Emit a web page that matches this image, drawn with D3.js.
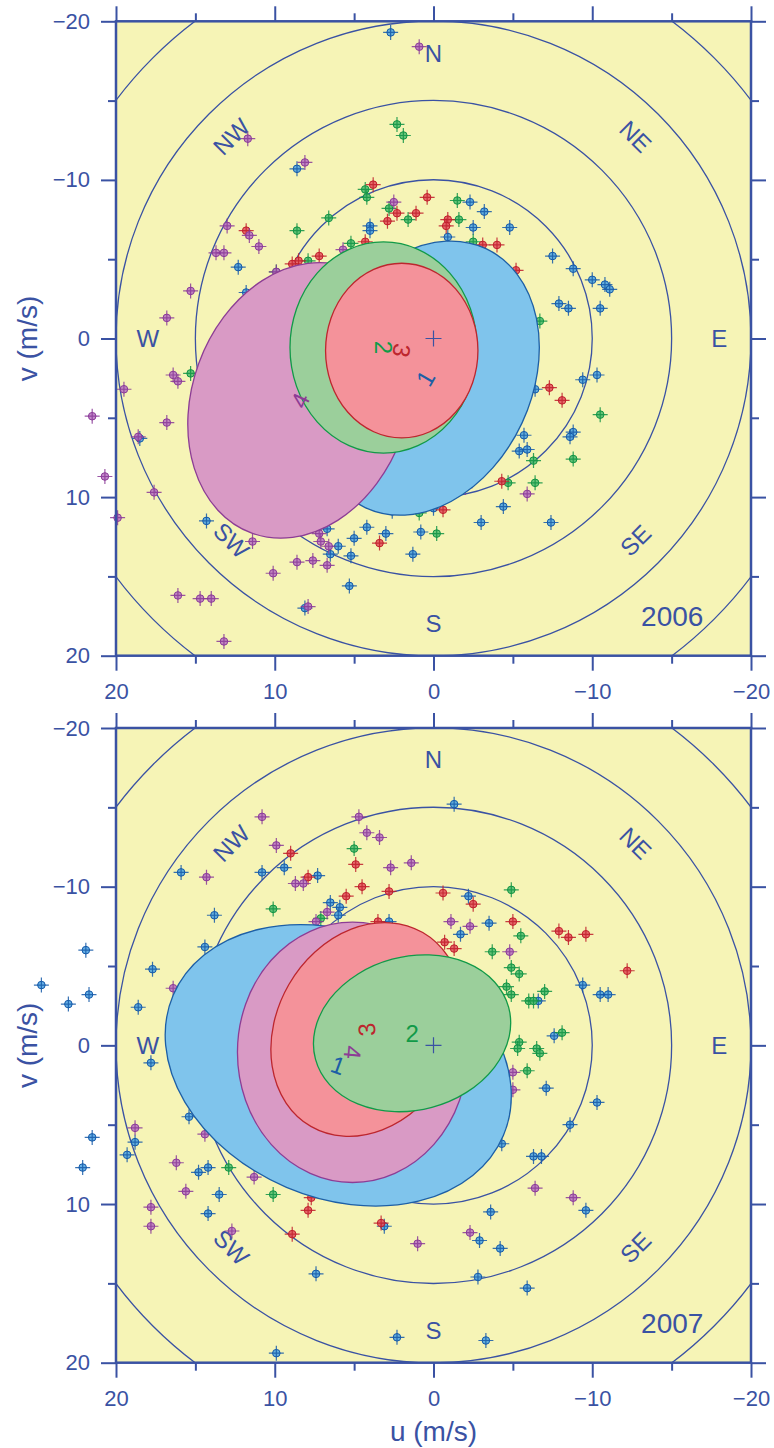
<!DOCTYPE html>
<html><head><meta charset="utf-8">
<script src="https://cdnjs.cloudflare.com/ajax/libs/d3/7.8.5/d3.min.js"></script>
<style>
body{margin:0;background:#fff}
svg{display:block}
text{font-family:"Liberation Sans",Arial,Helvetica,sans-serif}
</style>
</head><body>
<svg id="chart" width="774" height="1448"></svg>
<script>
// ---------- data ----------
const uDomain = [20, -20];
const vDomain = [-20, 20];
const majorTicks = [-20, -10, 0, 10, 20];
const minorTicks = [-15, -5, 5, 15];
const ringRadii = [10, 15, 20, 25];
const compassLabels = ["N", "NE", "E", "SE", "S", "SW", "W", "NW"];
const compassBearings = [0, 45, 90, 135, 180, 225, 270, 315];
const compassRadius = 18;
const years = ["2006", "2007"];
const yearLabelPos = [-17, 18.15];

// wind vectors (u, v) in m/s, series 1-4
const s1_2006 = [[2.7,-19.3],[8.6,-10.7],[4.0,-7.1],[4.0,-6.8],[12.3,-4.5],[11.8,-2.9],[-2.3,-8.6],[-3.2,-8.0],[-2.5,-7.0],[-4.8,-7.0],[-0.9,-6.4],[-7.5,-5.2],[-8.8,-4.4],[-10.0,-3.7],[-10.8,-3.4],[-11.1,-3.1],[-7.9,-2.2],[-8.5,-1.9],[-10.5,-1.9],[-6.4,3.2],[-9.4,2.6],[-10.3,2.3],[-5.7,6.1],[-5.4,7.1],[-5.9,7.0],[-8.8,5.9],[-8.6,6.2],[-4.4,10.6],[-3.0,11.6],[-7.4,11.6],[0.0,10.7],[0.8,12.2],[2.6,10.9],[3.0,12.3],[1.3,13.6],[18.5,6.3],[14.3,11.5],[6.7,12.0],[6.0,13.1],[6.5,13.6],[5.0,12.6],[4.2,11.9],[5.2,13.7],[5.3,15.6],[8.1,17.0]];
const s2_2006 = [[2.3,-13.5],[1.9,-12.8],[4.3,-9.4],[4.2,-8.9],[6.6,-7.6],[8.6,-6.8],[2.8,-8.2],[5.2,-6.0],[7.9,-4.9],[1.6,-7.5],[-1.5,-8.7],[-1.6,-7.5],[-2.5,-6.1],[-6.7,-1.1],[-10.5,4.8],[-6.3,7.7],[-8.8,7.6],[-6.4,9.1],[-4.7,9.1],[0.9,11.0],[-0.2,12.3],[15.3,2.2],[9.9,-4.2]];
const s3_2006 = [[3.8,-9.7],[11.8,-6.8],[2.9,-7.4],[2.3,-7.9],[4.3,-6.1],[7.2,-5.2],[8.5,-4.9],[8.9,-4.7],[0.4,-8.9],[1.1,-7.9],[-0.9,-7.5],[-0.8,-7.1],[-3.1,-5.9],[-4.0,-5.9],[-5.2,-4.3],[-7.3,3.1],[-8.1,3.9],[-4.3,9.0],[-0.6,10.8],[3.4,12.9]];
const s4_2006 = [[11.7,-12.6],[8.1,-11.1],[13.0,-7.1],[11.6,-6.5],[11.0,-5.8],[13.7,-5.4],[13.2,-5.4],[15.3,-3.0],[16.8,-1.3],[2.5,-8.6],[5.7,-5.6],[9.9,-4.2],[0.9,-18.4],[16.4,2.3],[16.1,2.7],[19.5,3.2],[21.5,4.9],[16.8,5.3],[18.6,6.2],[20.7,8.7],[17.6,9.7],[19.9,11.3],[11.4,12.8],[10.1,14.8],[8.6,14.1],[7.6,14.0],[6.7,14.3],[7.2,12.3],[7.1,12.8],[6.6,13.1],[16.1,16.2],[14.7,16.4],[14.0,16.4],[13.2,19.1],[7.9,16.9],[-5.9,9.8],[-2.0,9.4]];

const s1_2007 = [[24.7,-3.8],[23.0,-2.6],[21.7,-3.2],[21.9,-6.0],[18.6,-2.4],[17.7,-4.8],[15.9,-10.9],[14.4,-6.2],[13.8,-8.2],[10.8,-10.9],[9.4,-11.2],[7.3,-10.7],[6.5,-9.0],[5.9,-8.7],[6.0,-8.2],[2.8,-7.8],[17.8,1.1],[-1.3,-15.2],[-2.2,-9.4],[-3.5,-7.7],[-1.7,-7.0],[-9.4,-3.8],[-10.5,-3.2],[-11.0,-3.2],[-6.6,-2.8],[-7.6,-0.6],[15.4,4.5],[21.5,5.8],[18.8,6.1],[19.3,6.9],[22.1,7.7],[14.8,8.0],[14.2,7.7],[13.5,9.4],[14.2,10.6],[7.4,14.4],[9.9,19.4],[3.1,11.4],[2.3,18.4],[-7.1,2.7],[-10.3,3.6],[-8.6,5.0],[-4.3,6.2],[-6.3,7.0],[-6.8,7.0],[-9.6,10.4],[-3.6,10.5],[-2.9,12.3],[-4.2,12.8],[-2.8,14.6],[-5.9,15.3],[-3.3,18.6]];
const s2_2007 = [[5.0,-12.4],[10.1,-8.6],[7.1,-8.0],[-4.9,-9.8],[-5.5,-6.9],[-3.7,-5.9],[-4.9,-4.9],[-5.4,-4.5],[-4.6,-3.7],[-4.9,-3.2],[-7.0,-3.4],[-6.0,-2.8],[-6.3,-2.8],[-8.1,-0.8],[-5.4,-0.2],[-5.3,0.2],[-6.5,0.2],[-6.7,0.5],[-5.9,1.6],[12.9,7.7],[10.1,9.4]];
const s3_2007 = [[9.0,-12.1],[7.9,-10.6],[4.9,-11.4],[4.5,-10.0],[5.5,-9.4],[2.8,-9.7],[3.5,-7.8],[-0.6,-9.6],[-2.5,-8.9],[-5.0,-7.8],[-0.7,-6.5],[-1.3,-6.1],[-7.9,-7.2],[-8.5,-6.8],[-9.6,-7.0],[-12.2,-4.7],[7.9,10.4],[8.9,11.9],[3.3,11.2],[7.7,9.6]];
const s4_2007 = [[10.8,-14.4],[9.9,-12.6],[14.3,-10.6],[8.7,-10.2],[8.2,-10.2],[6.7,-8.4],[7.4,-7.8],[4.7,-14.4],[4.2,-13.4],[3.4,-13.1],[2.7,-11.2],[16.4,-3.6],[1.4,-11.5],[-1.1,-7.8],[-2.3,-7.5],[-4.8,-5.9],[18.8,5.2],[16.2,7.4],[15.6,9.2],[17.8,10.2],[17.8,11.4],[12.7,11.7],[11.3,8.3],[14.4,5.6],[-5.0,1.7],[-5.0,2.8],[-6.4,9.0],[-8.8,9.6],[-2.3,11.8],[1.0,12.5]];

// variability ellipses: centre (u,v), semi-axes a,b (m/s), orientation (deg)
const ell_2006 = [
  {id:"1", u:0.5,  v:2.5,  a:9.0,  b:6.7,  angle:-65, labelAngle:-60},
  {id:"4", u:8.4,  v:3.9,  a:8.9,  b:6.8,  angle:-70, labelAngle:-65},
  {id:"2", u:3.15, v:0.57, a:6.65, b:5.89, angle:90,  labelAngle:90},
  {id:"3", u:2.0,  v:0.76, a:5.5,  b:4.8,  angle:90,  labelAngle:100}
];
const ell_2007 = [
  {id:"1", u:6.0,  v:1.26, a:11.3, b:8.35, angle:23,  labelAngle:20},
  {id:"4", u:5.1,  v:0.44, a:8.2,  b:7.25, angle:90,  labelAngle:95},
  {id:"3", u:4.2,  v:-1.0, a:7.05, b:5.67, angle:-60, labelAngle:-95},
  {id:"2", u:1.35, v:-0.76,a:6.3,  b:4.83, angle:-15, labelAngle:0}
];

// ---------- styles ----------
const ink = "#3a52a3";
const bg = "#f6f4b6";
const colors = {
  "1": {ellFill:"#7fc4ec", ellStroke:"#1d5fa6", ptFill:"#4aa2e3", ptStroke:"#1559a8"},
  "2": {ellFill:"#9bcf9b", ellStroke:"#119a48", ptFill:"#4dbb6d", ptStroke:"#119344"},
  "3": {ellFill:"#f4929a", ellStroke:"#bd262e", ptFill:"#e3505c", ptStroke:"#c01f2b"},
  "4": {ellFill:"#d99ac5", ellStroke:"#8c3d95", ptFill:"#b873c2", ptStroke:"#8a3a98"}
};

const panels = [
  {year:years[0], top:21.3, bottom:655.7, series:{"1":s1_2006,"2":s2_2006,"3":s3_2006,"4":s4_2006}, ell:ell_2006},
  {year:years[1], top:728,  bottom:1362.7, series:{"1":s1_2007,"2":s2_2007,"3":s3_2007,"4":s4_2007}, ell:ell_2007}
];
const left = 116, right = 751;

const svg = d3.select("#chart");
const fmt = d3.format("");

panels.forEach((p, pi) => {
  const x = d3.scaleLinear().domain(uDomain).range([left, right]);
  const y = d3.scaleLinear().domain(vDomain).range([p.top, p.bottom]);
  const k = Math.abs(x(1) - x(0));
  const g = svg.append("g");

  const clipId = "clip" + pi;
  g.append("clipPath").attr("id", clipId).append("rect")
    .attr("x", left).attr("y", p.top).attr("width", right - left).attr("height", p.bottom - p.top);

  g.append("rect").attr("x", left).attr("y", p.top).attr("width", right - left)
    .attr("height", p.bottom - p.top).attr("fill", bg);

  // rings
  g.append("g").attr("clip-path", `url(#${clipId})`).selectAll("circle").data(ringRadii).join("circle")
    .attr("cx", x(0)).attr("cy", y(0)).attr("r", d => d * k)
    .attr("fill", "none").attr("stroke", ink).attr("stroke-width", 1.3);

  // compass labels
  g.append("g").selectAll("text").data(compassLabels).join("text")
    .attr("transform", (d, i) => {
      const b = compassBearings[i] * Math.PI / 180;
      const uu = -Math.sin(b) * compassRadius, vv = -Math.cos(b) * compassRadius;
      let rot = 0;
      if (compassBearings[i] % 90 !== 0) {
        rot = compassBearings[i] % 180 === 45 ? 45 : -45;
      }
      return `translate(${x(uu)},${y(vv)}) rotate(${rot})`;
    })
    .attr("text-anchor", "middle").attr("dominant-baseline", "central")
    .attr("font-size", 24).attr("fill", ink).text(d => d);

  // points
  ["1", "2", "3", "4"].forEach(s => {
    const c = colors[s];
    const pg = g.append("g").selectAll("g").data(p.series[s]).join("g")
      .attr("transform", d => `translate(${x(d[0])},${y(d[1])})`);
    pg.append("circle").attr("r", 3.8).attr("fill", c.ptFill).attr("fill-opacity", 0.85)
      .attr("stroke", c.ptStroke).attr("stroke-width", 1);
    pg.append("path").attr("d", "M-7.5,0H7.5M0,-7.5V7.5")
      .attr("stroke", c.ptStroke).attr("stroke-width", 1.2).attr("stroke-opacity", 0.85);
  });

  // ellipses
  g.append("g").selectAll("ellipse").data(p.ell).join("ellipse")
    .attr("transform", d => `translate(${x(d.u)},${y(d.v)}) rotate(${d.angle})`)
    .attr("rx", d => d.a * k).attr("ry", d => d.b * k)
    .attr("fill", d => colors[d.id].ellFill).attr("stroke", d => colors[d.id].ellStroke)
    .attr("stroke-width", 1.3);

  g.append("g").selectAll("text").data(p.ell).join("text")
    .attr("transform", d => `translate(${x(d.u)},${y(d.v)}) rotate(${d.labelAngle})`)
    .attr("text-anchor", "middle").attr("dominant-baseline", "central")
    .attr("font-size", 24).attr("fill", d => colors[d.id].ellStroke).text(d => d.id);

  // centre cross
  g.append("path").attr("d", `M${x(0)-8},${y(0)}H${x(0)+8}M${x(0)},${y(0)-8}V${y(0)+8}`)
    .attr("stroke", ink).attr("stroke-width", 1.2);

  // year
  g.append("text").attr("x", x(yearLabelPos[0])).attr("y", y(yearLabelPos[1]))
    .attr("text-anchor", "end").attr("font-size", 28).attr("fill", ink).text(p.year);

  // axes
  const styleAxis = (sel) => {
    sel.select(".domain").remove();
    sel.selectAll("line").attr("stroke", ink).attr("stroke-width", 2);
    sel.selectAll("text").attr("fill", ink).attr("font-size", 22)
      .style("font-family", '"Liberation Sans",Arial,sans-serif');
  };
  const mk = (axisFn, scale, ticks, size, labels) =>
    axisFn(scale).tickValues(ticks).tickSize(size).tickPadding(labels ? 12 : 0)
      .tickFormat(labels ? fmt : () => "");

  // bottom
  g.append("g").attr("transform", `translate(0,${p.bottom})`).call(mk(d3.axisBottom, x, majorTicks, 15, true)).call(styleAxis)
    .selectAll("text").attr("y", 15 + 13);
  g.append("g").attr("transform", `translate(0,${p.bottom})`).call(mk(d3.axisBottom, x, minorTicks, 8, false)).call(styleAxis);
  // top
  g.append("g").attr("transform", `translate(0,${p.top})`).call(mk(d3.axisTop, x, majorTicks, 15, false)).call(styleAxis);
  g.append("g").attr("transform", `translate(0,${p.top})`).call(mk(d3.axisTop, x, minorTicks, 8, false)).call(styleAxis);
  // left
  g.append("g").attr("transform", `translate(${left},0)`).call(mk(d3.axisLeft, y, majorTicks, 15, true)).call(styleAxis)
    .selectAll("text").attr("x", -26);
  g.append("g").attr("transform", `translate(${left},0)`).call(mk(d3.axisLeft, y, minorTicks, 8, false)).call(styleAxis);
  // right
  g.append("g").attr("transform", `translate(${right},0)`).call(mk(d3.axisRight, y, majorTicks, 15, false)).call(styleAxis);
  g.append("g").attr("transform", `translate(${right},0)`).call(mk(d3.axisRight, y, minorTicks, 8, false)).call(styleAxis);

  // frame
  g.append("rect").attr("x", left).attr("y", p.top).attr("width", right - left)
    .attr("height", p.bottom - p.top).attr("fill", "none").attr("stroke", ink).attr("stroke-width", 2.5);

  // v label
  g.append("text").attr("transform", `translate(37,${(p.top + p.bottom) / 2}) rotate(-90)`)
    .attr("text-anchor", "middle").attr("font-size", 28).attr("fill", ink).text("v (m/s)");
});

// u label
svg.append("text").attr("x", (left + right) / 2).attr("y", 1441)
  .attr("text-anchor", "middle").attr("font-size", 28).attr("fill", ink).text("u (m/s)");
</script>
</body></html>
